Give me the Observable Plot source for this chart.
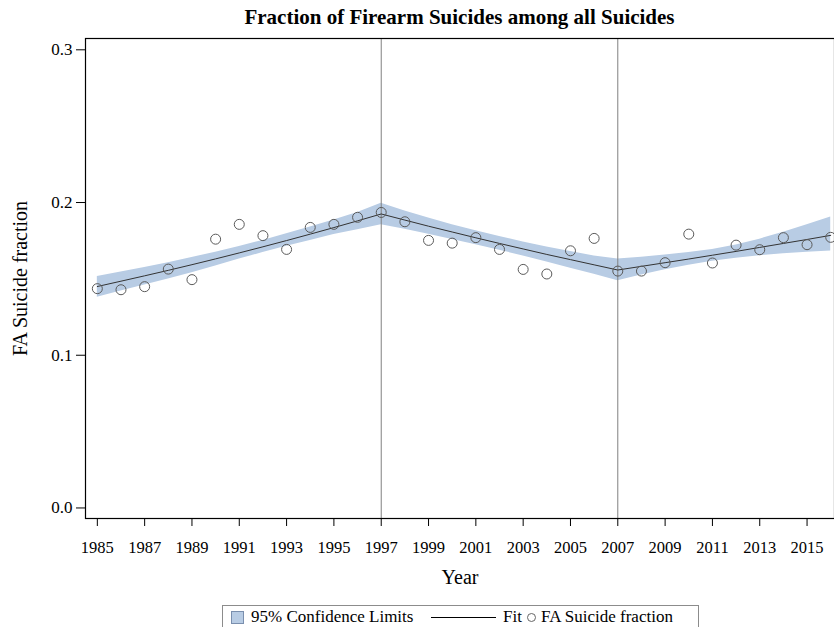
<!DOCTYPE html>
<html>
<head>
<meta charset="utf-8">
<script src="https://cdn.jsdelivr.net/npm/d3@7"></script>
<script src="https://cdn.jsdelivr.net/npm/@observablehq/plot@0.6"></script>
<style>
  html, body { margin: 0; padding: 0; background: #fff; }
  #fig { position: relative; width: 834px; height: 627px; overflow: hidden; font-family: "Liberation Serif", "Times New Roman", serif; color: #000; }
  #title { position: absolute; left: 85px; width: 749px; top: 5px; text-align: center; font-weight: bold; font-size: 21px; }
  #chart { position: absolute; left: 0; top: 0; }
  #legend { position: absolute; left: 222px; top: 605px; width: 475px; height: 30px; border: 1px solid #8c8c8c; font-size: 17px; }
  #legend span, #legend i { position: absolute; }
  .swatch { left: 8px; top: 5px; width: 11px; height: 11px; background: #b8cce4; border: 1px solid #7a8fae; }
  .fitline { left: 208px; top: 11px; width: 65px; height: 0; border-top: 1px solid #000; }
  .ring { left: 304px; top: 7px; width: 7px; height: 7px; border: 1px solid #666; border-radius: 50%; }
</style>
</head>
<body>
<div id="fig">
  <div id="chart"></div>
  <div id="title">Fraction of Firearm Suicides among all Suicides</div>
  <div id="legend">
    <i class="swatch"></i><span style="left:28px;top:1px">95% Confidence Limits</span>
    <i class="fitline"></i><span style="left:280px;top:1px">Fit</span>
    <i class="ring"></i><span style="left:318px;top:1px">FA Suicide fraction</span>
  </div>
</div>
<script>
// Years 1985–2016
const years = [1985, 1986, 1987, 1988, 1989, 1990, 1991, 1992, 1993, 1994, 1995, 1996,
  1997, 1998, 1999, 2000, 2001, 2002, 2003, 2004, 2005, 2006, 2007, 2008, 2009, 2010,
  2011, 2012, 2013, 2014, 2015, 2016];

// Observed fraction of firearm suicides
const observed = [0.1436, 0.1429, 0.1449, 0.1564, 0.1495, 0.1760, 0.1857, 0.1783, 0.1693,
  0.1837, 0.1857, 0.1903, 0.1935, 0.1874, 0.1752, 0.1734, 0.1770, 0.1693, 0.1562, 0.1532,
  0.1684, 0.1765, 0.1551, 0.1551, 0.1606, 0.1793, 0.1604, 0.1721, 0.1691, 0.1770, 0.1724,
  0.1772];

// Joinpoint fit (joins at 1997 and 2007)
const fit = [0.1450, 0.1485, 0.1520, 0.1556, 0.1593, 0.1631, 0.1670, 0.1710, 0.1751,
  0.1793, 0.1836, 0.1880, 0.1925, 0.1885, 0.1845, 0.1807, 0.1769, 0.1732, 0.1696, 0.1660,
  0.1626, 0.1592, 0.1558, 0.1582, 0.1606, 0.1630, 0.1655, 0.1680, 0.1706, 0.1732, 0.1758,
  0.1785];

// 95% confidence limits of the fit
const lower = [0.1380, 0.1420, 0.1460, 0.1500, 0.1540, 0.1585, 0.1630, 0.1672, 0.1713,
  0.1752, 0.1790, 0.1822, 0.1855, 0.1825, 0.1792, 0.1758, 0.1723, 0.1688, 0.1650, 0.1610,
  0.1570, 0.1530, 0.1487, 0.1525, 0.1560, 0.1590, 0.1615, 0.1635, 0.1652, 0.1665, 0.1675,
  0.1683];
const upper = [0.1515, 0.1545, 0.1575, 0.1605, 0.1640, 0.1675, 0.1712, 0.1752, 0.1795,
  0.1840, 0.1885, 0.1935, 0.1995, 0.1945, 0.1898, 0.1855, 0.1815, 0.1778, 0.1742, 0.1708,
  0.1680, 0.1650, 0.1630, 0.1642, 0.1656, 0.1672, 0.1692, 0.1722, 0.1760, 0.1805, 0.1855,
  0.1905];

const joinpoints = [1997, 2007];
const xTicks = [1985, 1987, 1989, 1991, 1993, 1995, 1997, 1999, 2001, 2003, 2005, 2007,
  2009, 2011, 2013, 2015];
const yTicks = [0, 0.1, 0.2, 0.3];

const rows = years.map((year, i) => ({
  year, observed: observed[i], fit: fit[i], lower: lower[i], upper: upper[i]
}));

const chart = Plot.plot({
  width: 834,
  height: 600,
  marginTop: 38,
  marginBottom: 82,
  marginLeft: 85,
  marginRight: 0,
  style: { fontFamily: "'Liberation Serif', 'Times New Roman', serif", fontSize: "16.5px", background: "white", color: "black" },
  x: { domain: [1984.5, 2016.16] },
  y: { domain: [-0.0069, 0.3074] },
  marks: [
    Plot.areaY(rows, { x: "year", y1: "lower", y2: "upper", fill: "#b8cce4" }),
    Plot.ruleX(joinpoints, { stroke: "#808080", strokeWidth: 1 }),
    Plot.line(rows, { x: "year", y: "fit", stroke: "#333", strokeWidth: 1 }),
    Plot.dot(rows, { x: "year", y: "observed", r: 5, stroke: "#5a5a5a", strokeWidth: 1, fill: "none" }),
    Plot.frame({ stroke: "black", strokeWidth: 1.2 }),
    Plot.axisX({ ticks: xTicks, tickFormat: d => String(d), tickSize: 8, tickPadding: 15, label: null, fontSize: 16.5 }),
    Plot.axisY({ ticks: yTicks, tickFormat: d3.format(".1f"), tickSize: 9, tickPadding: 4, label: null, fontSize: 17 }),
    Plot.text(["FA Suicide fraction"], { frameAnchor: "left", textAnchor: "middle", dx: -65, rotate: -90, fontSize: 20 }),
    Plot.text(["Year"], { frameAnchor: "bottom", dy: 65, fontSize: 20 })
  ]
});
document.getElementById("chart").append(chart);
</script>
</body>
</html>
